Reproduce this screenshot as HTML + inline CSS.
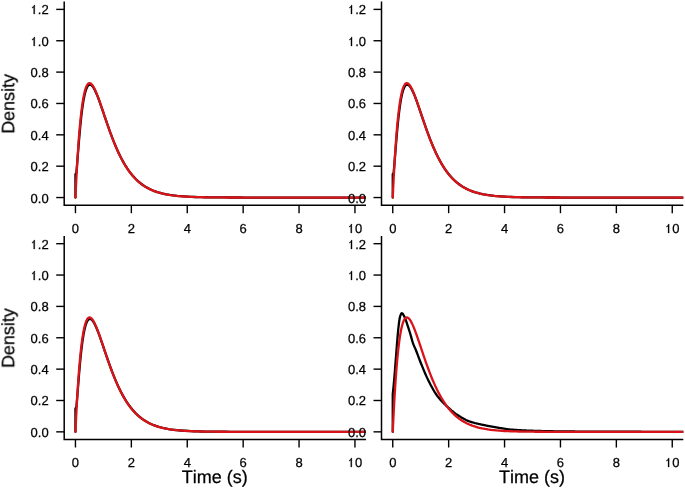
<!DOCTYPE html>
<html><head><meta charset="utf-8"><style>
html,body{margin:0;padding:0;background:#fff;}
body{width:685px;height:488px;overflow:hidden;}
svg{display:block;}
text{font-kerning:none;text-rendering:geometricPrecision;stroke:#000;stroke-width:0.25px;}
</style></head><body>
<svg width="685" height="488" viewBox="0 0 685 488">
<rect width="685" height="488" fill="#fff"/>
<defs><filter id="ga" x="0" y="0" width="1" height="1"><feColorMatrix type="identity"/></filter></defs>
<clipPath id="c0"><rect x="64.20" y="1.60" width="301.80" height="203.60"/></clipPath>
<g clip-path="url(#c0)" fill="none" stroke-linejoin="round" stroke-linecap="round" stroke-width="2.3">
<path d="M75.45,197.55 L75.45,174.03 L76.29,173.24 L76.57,170.20 L76.85,167.02 L77.13,163.73 L77.41,160.35 L77.69,156.92 L77.97,153.45 L78.25,149.97 L78.52,146.51 L78.80,143.08 L79.08,139.71 L79.36,136.41 L79.64,133.20 L79.92,130.09 L80.20,127.09 L80.48,124.19 L80.76,121.41 L81.04,118.76 L81.32,116.22 L81.60,113.80 L81.88,111.50 L82.16,109.32 L82.44,107.26 L82.72,105.31 L83.00,103.47 L83.28,101.73 L83.56,100.10 L83.84,98.57 L84.53,95.16 L85.23,92.32 L85.93,89.98 L86.63,88.12 L87.33,86.70 L88.03,85.66 L88.73,84.99 L89.42,84.64 L90.12,84.59 L90.82,84.81 L91.52,85.27 L92.22,85.95 L92.92,86.83 L93.62,87.88 L94.32,89.09 L95.02,90.44 L95.71,91.92 L96.41,93.50 L97.11,95.18 L97.81,96.93 L98.51,98.76 L99.21,100.65 L99.91,102.58 L100.61,104.55 L101.30,106.56 L102.00,108.59 L102.70,110.63 L103.40,112.69 L104.10,114.75 L104.80,116.81 L105.50,118.86 L106.20,120.91 L106.89,122.94 L107.59,124.95 L108.29,126.94 L108.99,128.91 L109.69,130.86 L110.39,132.78 L111.09,134.67 L111.78,136.52 L112.48,138.35 L113.18,140.14 L113.88,141.89 L114.58,143.61 L115.28,145.30 L115.98,146.94 L116.68,148.56 L117.38,150.13 L118.07,151.66 L118.77,153.16 L119.47,154.62 L120.17,156.04 L120.87,157.43 L121.57,158.78 L122.27,160.09 L122.97,161.37 L123.66,162.61 L124.36,163.81 L125.06,164.98 L125.76,166.12 L126.46,167.22 L127.16,168.29 L127.86,169.33 L128.56,170.33 L129.25,171.30 L129.95,172.25 L130.65,173.16 L131.35,174.04 L132.05,174.90 L132.75,175.73 L133.45,176.53 L134.15,177.30 L134.84,178.05 L135.54,178.78 L136.24,179.47 L136.94,180.15 L137.64,180.80 L138.34,181.43 L139.04,182.04 L139.74,182.63 L140.43,183.19 L141.13,183.74 L141.83,184.27 L142.53,184.78 L143.23,185.27 L143.93,185.74 L144.63,186.20 L145.32,186.64 L146.02,187.06 L146.72,187.47 L147.42,187.86 L148.12,188.24 L148.82,188.61 L149.52,188.96 L150.22,189.29 L150.92,189.62 L151.61,189.93 L152.31,190.24 L153.01,190.53 L153.71,190.80 L154.41,191.07 L155.11,191.33 L155.81,191.58 L156.50,191.82 L157.20,192.05 L157.90,192.27 L158.60,192.48 L159.30,192.69 L162.83,193.61 L166.36,194.35 L169.89,194.97 L173.42,195.46 L176.95,195.87 L180.48,196.19 L184.00,196.46 L187.53,196.67 L191.06,196.85 L194.59,196.98 L198.12,197.10 L201.65,197.19 L205.18,197.26 L208.71,197.32 L212.24,197.36 L215.77,197.40 L219.30,197.43 L222.83,197.46 L226.36,197.47 L229.89,197.49 L233.41,197.50 L236.94,197.51 L240.47,197.52 L244.00,197.53 L247.53,197.53 L251.06,197.53 L254.59,197.54 L258.12,197.54 L261.65,197.54 L265.18,197.54 L268.71,197.55 L272.24,197.55 L275.77,197.55 L279.30,197.55 L282.82,197.55 L286.35,197.55 L289.88,197.55 L293.41,197.55 L296.94,197.55 L300.47,197.55 L304.00,197.55 L307.53,197.55 L311.06,197.55 L314.59,197.55 L318.12,197.55 L321.65,197.55 L325.18,197.55 L328.71,197.55 L332.23,197.55 L335.76,197.55 L339.29,197.55 L342.82,197.55 L346.35,197.55 L349.88,197.55 L353.41,197.55 L356.94,197.55 L360.47,197.55 L364.00,197.55 L367.53,197.55" stroke="#000" stroke-width="2.3"/>
<path d="M75.45,197.55 L75.59,194.50 L75.73,191.50 L75.87,188.57 L76.01,185.69 L76.15,182.88 L76.29,180.12 L76.43,177.41 L76.57,174.76 L76.71,172.16 L76.85,169.62 L76.99,167.13 L77.13,164.69 L77.27,162.31 L77.41,159.97 L77.55,157.68 L77.69,155.45 L77.83,153.26 L77.97,151.11 L78.11,149.02 L78.25,146.97 L78.38,144.96 L78.52,143.00 L78.66,141.08 L78.80,139.21 L78.94,137.38 L79.08,135.59 L79.22,133.84 L79.36,132.13 L79.50,130.47 L79.64,128.84 L79.78,127.25 L79.92,125.70 L80.06,124.18 L80.20,122.71 L80.34,121.26 L80.48,119.86 L80.62,118.49 L80.76,117.15 L80.90,115.85 L81.04,114.58 L81.60,109.84 L82.16,105.58 L82.72,101.79 L83.28,98.44 L83.84,95.49 L84.39,92.92 L84.95,90.70 L85.51,88.82 L86.07,87.24 L86.63,85.95 L87.19,84.93 L87.75,84.15 L88.31,83.61 L88.87,83.28 L89.42,83.15 L89.98,83.20 L90.54,83.42 L91.10,83.80 L91.66,84.31 L92.22,84.97 L92.78,85.74 L93.34,86.62 L93.90,87.60 L94.46,88.67 L95.02,89.83 L95.57,91.06 L96.13,92.36 L96.69,93.72 L97.25,95.13 L97.81,96.59 L98.37,98.09 L98.93,99.63 L99.49,101.19 L100.05,102.79 L100.61,104.40 L101.16,106.04 L101.72,107.68 L102.28,109.34 L102.84,111.01 L103.40,112.67 L103.96,114.34 L104.52,116.01 L105.08,117.67 L105.64,119.33 L106.20,120.98 L106.75,122.62 L107.31,124.25 L107.87,125.87 L108.43,127.46 L108.99,129.05 L109.55,130.62 L110.11,132.16 L110.67,133.69 L111.23,135.20 L111.78,136.69 L112.34,138.16 L112.90,139.60 L113.46,141.03 L114.02,142.42 L114.58,143.80 L115.14,145.15 L115.70,146.48 L116.26,147.79 L116.82,149.07 L117.38,150.32 L117.93,151.55 L118.49,152.76 L119.05,153.94 L119.61,155.10 L120.17,156.24 L120.73,157.35 L121.29,158.43 L121.85,159.50 L122.41,160.54 L122.97,161.55 L123.52,162.54 L124.08,163.51 L124.64,164.46 L125.20,165.39 L125.76,166.29 L126.32,167.17 L126.88,168.03 L127.44,168.87 L128.00,169.69 L128.56,170.49 L129.11,171.27 L129.67,172.03 L130.23,172.77 L130.79,173.49 L131.35,174.19 L131.91,174.87 L132.47,175.54 L133.03,176.19 L133.59,176.82 L134.15,177.44 L134.70,178.03 L135.26,178.62 L135.82,179.18 L136.38,179.73 L136.94,180.27 L137.50,180.79 L138.06,181.30 L138.62,181.79 L139.18,182.27 L139.74,182.73 L140.29,183.19 L140.85,183.63 L141.41,184.05 L141.97,184.47 L142.53,184.87 L143.09,185.26 L143.65,185.64 L144.21,186.01 L144.77,186.37 L145.33,186.72 L145.88,187.06 L146.44,187.38 L147.00,187.70 L147.56,188.01 L148.12,188.31 L148.68,188.60 L149.24,188.88 L149.80,189.16 L150.36,189.42 L150.92,189.68 L151.47,189.93 L152.03,190.17 L152.59,190.41 L153.15,190.64 L153.71,190.86 L154.27,191.07 L154.83,191.28 L155.39,191.48 L155.95,191.68 L156.50,191.87 L157.06,192.05 L157.62,192.23 L158.18,192.40 L158.74,192.57 L159.30,192.73 L162.11,193.47 L164.93,194.10 L167.74,194.63 L170.56,195.09 L173.37,195.48 L176.18,195.80 L179.00,196.08 L181.81,196.31 L184.62,196.51 L187.44,196.68 L190.25,196.82 L193.07,196.93 L195.88,197.03 L198.69,197.12 L201.51,197.19 L204.32,197.25 L207.14,197.30 L209.95,197.34 L212.76,197.37 L215.58,197.40 L218.39,197.43 L221.21,197.45 L224.02,197.46 L226.83,197.48 L229.65,197.49 L232.46,197.50 L235.27,197.51 L238.09,197.52 L240.90,197.52 L243.72,197.53 L246.53,197.53 L249.34,197.53 L252.16,197.54 L254.97,197.54 L257.79,197.54 L260.60,197.54 L263.41,197.54 L266.23,197.54 L269.04,197.55 L271.86,197.55 L274.67,197.55 L277.48,197.55 L280.30,197.55 L283.11,197.55 L285.92,197.55 L288.74,197.55 L291.55,197.55 L294.37,197.55 L297.18,197.55 L299.99,197.55 L302.81,197.55 L305.62,197.55 L308.44,197.55 L311.25,197.55 L314.06,197.55 L316.88,197.55 L319.69,197.55 L322.51,197.55 L325.32,197.55 L328.13,197.55 L330.95,197.55 L333.76,197.55 L336.57,197.55 L339.39,197.55 L342.20,197.55 L345.02,197.55 L347.83,197.55 L350.64,197.55 L353.46,197.55 L356.27,197.55 L359.09,197.55 L361.90,197.55 L364.71,197.55 L367.53,197.55" stroke="#d8141a"/>
</g>
<g stroke="#000" fill="none">
<path stroke-width="1.5" d="M64.20,1.60 V205.20 H366.00"/>
<path stroke-width="1.4" d="M56.20,197.55 H64.20"/>
<path stroke-width="1.4" d="M56.20,166.19 H64.20"/>
<path stroke-width="1.4" d="M56.20,134.83 H64.20"/>
<path stroke-width="1.4" d="M56.20,103.47 H64.20"/>
<path stroke-width="1.4" d="M56.20,72.11 H64.20"/>
<path stroke-width="1.4" d="M56.20,40.75 H64.20"/>
<path stroke-width="1.4" d="M56.20,9.39 H64.20"/>
<path stroke-width="1.4" d="M75.45,205.20 V213.20"/>
<path stroke-width="1.4" d="M131.35,205.20 V213.20"/>
<path stroke-width="1.4" d="M187.25,205.20 V213.20"/>
<path stroke-width="1.4" d="M243.15,205.20 V213.20"/>
<path stroke-width="1.4" d="M299.05,205.20 V213.20"/>
<path stroke-width="1.4" d="M354.95,205.20 V213.20"/>
</g>
<g font-family="Liberation Sans, sans-serif" font-size="13.0" fill="#000" filter="url(#ga)">
<text x="48.70" y="203.00" text-anchor="end">0.0</text>
<text x="48.70" y="171.00" text-anchor="end">0.2</text>
<text x="48.70" y="140.00" text-anchor="end">0.4</text>
<text x="48.70" y="108.00" text-anchor="end">0.6</text>
<text x="48.70" y="77.00" text-anchor="end">0.8</text>
<path d="M652,0 L472,0 L472,1080 C410,1020 340,975 240,920 L240,1075 C330,1125 420,1190 480,1270 C505,1315 525,1360 540,1420 L652,1420 Z" stroke="#000" stroke-width="0.25" vector-effect="non-scaling-stroke" transform="translate(30.628,46.000) scale(0.006348,-0.006348)"/>
<text x="48.70" y="46.00" text-anchor="end">.0</text>
<path d="M652,0 L472,0 L472,1080 C410,1020 340,975 240,920 L240,1075 C330,1125 420,1190 480,1270 C505,1315 525,1360 540,1420 L652,1420 Z" stroke="#000" stroke-width="0.25" vector-effect="non-scaling-stroke" transform="translate(30.628,14.000) scale(0.006348,-0.006348)"/>
<text x="48.70" y="14.00" text-anchor="end">.2</text>
<text x="75.45" y="233" text-anchor="middle">0</text>
<text x="131.35" y="233" text-anchor="middle">2</text>
<text x="187.25" y="233" text-anchor="middle">4</text>
<text x="243.15" y="233" text-anchor="middle">6</text>
<text x="299.05" y="233" text-anchor="middle">8</text>
<path d="M652,0 L472,0 L472,1080 C410,1020 340,975 240,920 L240,1075 C330,1125 420,1190 480,1270 C505,1315 525,1360 540,1420 L652,1420 Z" stroke="#000" stroke-width="0.25" vector-effect="non-scaling-stroke" transform="translate(347.720,233.000) scale(0.006348,-0.006348)"/>
<text x="354.95" y="233">0</text>
</g>
<clipPath id="c1"><rect x="381.50" y="1.60" width="301.80" height="203.60"/></clipPath>
<g clip-path="url(#c1)" fill="none" stroke-linejoin="round" stroke-linecap="round" stroke-width="2.3">
<path d="M392.75,197.55 L392.75,174.03 L393.59,173.24 L393.87,170.20 L394.15,167.02 L394.43,163.73 L394.71,160.35 L394.99,156.92 L395.27,153.45 L395.55,149.97 L395.82,146.51 L396.10,143.08 L396.38,139.71 L396.66,136.41 L396.94,133.20 L397.22,130.09 L397.50,127.09 L397.78,124.19 L398.06,121.41 L398.34,118.76 L398.62,116.22 L398.90,113.80 L399.18,111.50 L399.46,109.32 L399.74,107.26 L400.02,105.31 L400.30,103.47 L400.58,101.73 L400.86,100.10 L401.13,98.57 L401.83,95.16 L402.53,92.32 L403.23,89.98 L403.93,88.12 L404.63,86.70 L405.33,85.66 L406.03,84.99 L406.73,84.64 L407.42,84.59 L408.12,84.81 L408.82,85.27 L409.52,85.95 L410.22,86.83 L410.92,87.88 L411.62,89.09 L412.31,90.44 L413.01,91.92 L413.71,93.50 L414.41,95.18 L415.11,96.93 L415.81,98.76 L416.51,100.65 L417.21,102.58 L417.91,104.55 L418.60,106.56 L419.30,108.59 L420.00,110.63 L420.70,112.69 L421.40,114.75 L422.10,116.81 L422.80,118.86 L423.50,120.91 L424.19,122.94 L424.89,124.95 L425.59,126.94 L426.29,128.91 L426.99,130.86 L427.69,132.78 L428.39,134.67 L429.08,136.52 L429.78,138.35 L430.48,140.14 L431.18,141.89 L431.88,143.61 L432.58,145.30 L433.28,146.94 L433.98,148.56 L434.68,150.13 L435.37,151.66 L436.07,153.16 L436.77,154.62 L437.47,156.04 L438.17,157.43 L438.87,158.78 L439.57,160.09 L440.26,161.37 L440.96,162.61 L441.66,163.81 L442.36,164.98 L443.06,166.12 L443.76,167.22 L444.46,168.29 L445.16,169.33 L445.86,170.33 L446.55,171.30 L447.25,172.25 L447.95,173.16 L448.65,174.04 L449.35,174.90 L450.05,175.73 L450.75,176.53 L451.44,177.30 L452.14,178.05 L452.84,178.78 L453.54,179.47 L454.24,180.15 L454.94,180.80 L455.64,181.43 L456.34,182.04 L457.03,182.63 L457.73,183.19 L458.43,183.74 L459.13,184.27 L459.83,184.78 L460.53,185.27 L461.23,185.74 L461.93,186.20 L462.62,186.64 L463.32,187.06 L464.02,187.47 L464.72,187.86 L465.42,188.24 L466.12,188.61 L466.82,188.96 L467.52,189.29 L468.22,189.62 L468.91,189.93 L469.61,190.24 L470.31,190.53 L471.01,190.80 L471.71,191.07 L472.41,191.33 L473.11,191.58 L473.81,191.82 L474.50,192.05 L475.20,192.27 L475.90,192.48 L476.60,192.69 L480.13,193.61 L483.66,194.35 L487.19,194.97 L490.72,195.46 L494.25,195.87 L497.78,196.19 L501.30,196.46 L504.83,196.67 L508.36,196.85 L511.89,196.98 L515.42,197.10 L518.95,197.19 L522.48,197.26 L526.01,197.32 L529.54,197.36 L533.07,197.40 L536.60,197.43 L540.13,197.46 L543.66,197.47 L547.19,197.49 L550.71,197.50 L554.24,197.51 L557.77,197.52 L561.30,197.53 L564.83,197.53 L568.36,197.53 L571.89,197.54 L575.42,197.54 L578.95,197.54 L582.48,197.54 L586.01,197.55 L589.54,197.55 L593.07,197.55 L596.60,197.55 L600.12,197.55 L603.65,197.55 L607.18,197.55 L610.71,197.55 L614.24,197.55 L617.77,197.55 L621.30,197.55 L624.83,197.55 L628.36,197.55 L631.89,197.55 L635.42,197.55 L638.95,197.55 L642.48,197.55 L646.01,197.55 L649.53,197.55 L653.06,197.55 L656.59,197.55 L660.12,197.55 L663.65,197.55 L667.18,197.55 L670.71,197.55 L674.24,197.55 L677.77,197.55 L681.30,197.55 L684.83,197.55" stroke="#000" stroke-width="2.3"/>
<path d="M392.75,197.55 L392.89,194.50 L393.03,191.50 L393.17,188.57 L393.31,185.69 L393.45,182.88 L393.59,180.12 L393.73,177.41 L393.87,174.76 L394.01,172.16 L394.15,169.62 L394.29,167.13 L394.43,164.69 L394.57,162.31 L394.71,159.97 L394.85,157.68 L394.99,155.45 L395.13,153.26 L395.27,151.11 L395.41,149.02 L395.55,146.97 L395.68,144.96 L395.82,143.00 L395.96,141.08 L396.10,139.21 L396.24,137.38 L396.38,135.59 L396.52,133.84 L396.66,132.13 L396.80,130.47 L396.94,128.84 L397.08,127.25 L397.22,125.70 L397.36,124.18 L397.50,122.71 L397.64,121.26 L397.78,119.86 L397.92,118.49 L398.06,117.15 L398.20,115.85 L398.34,114.58 L398.90,109.84 L399.46,105.58 L400.02,101.79 L400.58,98.44 L401.13,95.49 L401.69,92.92 L402.25,90.70 L402.81,88.82 L403.37,87.24 L403.93,85.95 L404.49,84.93 L405.05,84.15 L405.61,83.61 L406.17,83.28 L406.73,83.15 L407.28,83.20 L407.84,83.42 L408.40,83.80 L408.96,84.31 L409.52,84.97 L410.08,85.74 L410.64,86.62 L411.20,87.60 L411.76,88.67 L412.31,89.83 L412.87,91.06 L413.43,92.36 L413.99,93.72 L414.55,95.13 L415.11,96.59 L415.67,98.09 L416.23,99.63 L416.79,101.19 L417.35,102.79 L417.91,104.40 L418.46,106.04 L419.02,107.68 L419.58,109.34 L420.14,111.01 L420.70,112.67 L421.26,114.34 L421.82,116.01 L422.38,117.67 L422.94,119.33 L423.50,120.98 L424.05,122.62 L424.61,124.25 L425.17,125.87 L425.73,127.46 L426.29,129.05 L426.85,130.62 L427.41,132.16 L427.97,133.69 L428.53,135.20 L429.08,136.69 L429.64,138.16 L430.20,139.60 L430.76,141.03 L431.32,142.42 L431.88,143.80 L432.44,145.15 L433.00,146.48 L433.56,147.79 L434.12,149.07 L434.68,150.32 L435.23,151.55 L435.79,152.76 L436.35,153.94 L436.91,155.10 L437.47,156.24 L438.03,157.35 L438.59,158.43 L439.15,159.50 L439.71,160.54 L440.26,161.55 L440.82,162.54 L441.38,163.51 L441.94,164.46 L442.50,165.39 L443.06,166.29 L443.62,167.17 L444.18,168.03 L444.74,168.87 L445.30,169.69 L445.86,170.49 L446.41,171.27 L446.97,172.03 L447.53,172.77 L448.09,173.49 L448.65,174.19 L449.21,174.87 L449.77,175.54 L450.33,176.19 L450.89,176.82 L451.44,177.44 L452.00,178.03 L452.56,178.62 L453.12,179.18 L453.68,179.73 L454.24,180.27 L454.80,180.79 L455.36,181.30 L455.92,181.79 L456.48,182.27 L457.04,182.73 L457.59,183.19 L458.15,183.63 L458.71,184.05 L459.27,184.47 L459.83,184.87 L460.39,185.26 L460.95,185.64 L461.51,186.01 L462.07,186.37 L462.62,186.72 L463.18,187.06 L463.74,187.38 L464.30,187.70 L464.86,188.01 L465.42,188.31 L465.98,188.60 L466.54,188.88 L467.10,189.16 L467.66,189.42 L468.22,189.68 L468.77,189.93 L469.33,190.17 L469.89,190.41 L470.45,190.64 L471.01,190.86 L471.57,191.07 L472.13,191.28 L472.69,191.48 L473.25,191.68 L473.81,191.87 L474.36,192.05 L474.92,192.23 L475.48,192.40 L476.04,192.57 L476.60,192.73 L479.41,193.47 L482.23,194.10 L485.04,194.63 L487.86,195.09 L490.67,195.48 L493.48,195.80 L496.30,196.08 L499.11,196.31 L501.92,196.51 L504.74,196.68 L507.55,196.82 L510.37,196.93 L513.18,197.03 L515.99,197.12 L518.81,197.19 L521.62,197.25 L524.44,197.30 L527.25,197.34 L530.06,197.37 L532.88,197.40 L535.69,197.43 L538.51,197.45 L541.32,197.46 L544.13,197.48 L546.95,197.49 L549.76,197.50 L552.57,197.51 L555.39,197.52 L558.20,197.52 L561.02,197.53 L563.83,197.53 L566.64,197.53 L569.46,197.54 L572.27,197.54 L575.09,197.54 L577.90,197.54 L580.71,197.54 L583.53,197.54 L586.34,197.55 L589.16,197.55 L591.97,197.55 L594.78,197.55 L597.60,197.55 L600.41,197.55 L603.22,197.55 L606.04,197.55 L608.85,197.55 L611.67,197.55 L614.48,197.55 L617.29,197.55 L620.11,197.55 L622.92,197.55 L625.74,197.55 L628.55,197.55 L631.36,197.55 L634.18,197.55 L636.99,197.55 L639.81,197.55 L642.62,197.55 L645.43,197.55 L648.25,197.55 L651.06,197.55 L653.87,197.55 L656.69,197.55 L659.50,197.55 L662.32,197.55 L665.13,197.55 L667.94,197.55 L670.76,197.55 L673.57,197.55 L676.39,197.55 L679.20,197.55 L682.01,197.55 L684.83,197.55" stroke="#d8141a"/>
</g>
<g stroke="#000" fill="none">
<path stroke-width="1.5" d="M381.50,1.60 V205.20 H683.30"/>
<path stroke-width="1.4" d="M373.50,197.55 H381.50"/>
<path stroke-width="1.4" d="M373.50,166.19 H381.50"/>
<path stroke-width="1.4" d="M373.50,134.83 H381.50"/>
<path stroke-width="1.4" d="M373.50,103.47 H381.50"/>
<path stroke-width="1.4" d="M373.50,72.11 H381.50"/>
<path stroke-width="1.4" d="M373.50,40.75 H381.50"/>
<path stroke-width="1.4" d="M373.50,9.39 H381.50"/>
<path stroke-width="1.4" d="M392.75,205.20 V213.20"/>
<path stroke-width="1.4" d="M448.65,205.20 V213.20"/>
<path stroke-width="1.4" d="M504.55,205.20 V213.20"/>
<path stroke-width="1.4" d="M560.45,205.20 V213.20"/>
<path stroke-width="1.4" d="M616.35,205.20 V213.20"/>
<path stroke-width="1.4" d="M672.25,205.20 V213.20"/>
</g>
<g font-family="Liberation Sans, sans-serif" font-size="13.0" fill="#000" filter="url(#ga)">
<text x="366.00" y="203.00" text-anchor="end">0.0</text>
<text x="366.00" y="171.00" text-anchor="end">0.2</text>
<text x="366.00" y="140.00" text-anchor="end">0.4</text>
<text x="366.00" y="108.00" text-anchor="end">0.6</text>
<text x="366.00" y="77.00" text-anchor="end">0.8</text>
<path d="M652,0 L472,0 L472,1080 C410,1020 340,975 240,920 L240,1075 C330,1125 420,1190 480,1270 C505,1315 525,1360 540,1420 L652,1420 Z" stroke="#000" stroke-width="0.25" vector-effect="non-scaling-stroke" transform="translate(347.928,46.000) scale(0.006348,-0.006348)"/>
<text x="366.00" y="46.00" text-anchor="end">.0</text>
<path d="M652,0 L472,0 L472,1080 C410,1020 340,975 240,920 L240,1075 C330,1125 420,1190 480,1270 C505,1315 525,1360 540,1420 L652,1420 Z" stroke="#000" stroke-width="0.25" vector-effect="non-scaling-stroke" transform="translate(347.928,14.000) scale(0.006348,-0.006348)"/>
<text x="366.00" y="14.00" text-anchor="end">.2</text>
<text x="392.75" y="233" text-anchor="middle">0</text>
<text x="448.65" y="233" text-anchor="middle">2</text>
<text x="504.55" y="233" text-anchor="middle">4</text>
<text x="560.45" y="233" text-anchor="middle">6</text>
<text x="616.35" y="233" text-anchor="middle">8</text>
<path d="M652,0 L472,0 L472,1080 C410,1020 340,975 240,920 L240,1075 C330,1125 420,1190 480,1270 C505,1315 525,1360 540,1420 L652,1420 Z" stroke="#000" stroke-width="0.25" vector-effect="non-scaling-stroke" transform="translate(665.020,233.000) scale(0.006348,-0.006348)"/>
<text x="672.25" y="233">0</text>
</g>
<clipPath id="c2"><rect x="64.20" y="235.90" width="301.80" height="203.60"/></clipPath>
<g clip-path="url(#c2)" fill="none" stroke-linejoin="round" stroke-linecap="round" stroke-width="2.3">
<path d="M75.45,431.85 L75.45,408.33 L76.29,407.54 L76.57,404.50 L76.85,401.32 L77.13,398.03 L77.41,394.65 L77.69,391.22 L77.97,387.75 L78.25,384.27 L78.52,380.81 L78.80,377.38 L79.08,374.01 L79.36,370.71 L79.64,367.50 L79.92,364.39 L80.20,361.39 L80.48,358.49 L80.76,355.71 L81.04,353.06 L81.32,350.52 L81.60,348.10 L81.88,345.80 L82.16,343.62 L82.44,341.56 L82.72,339.61 L83.00,337.77 L83.28,336.03 L83.56,334.40 L83.84,332.87 L84.53,329.46 L85.23,326.62 L85.93,324.28 L86.63,322.42 L87.33,321.00 L88.03,319.96 L88.73,319.29 L89.42,318.94 L90.12,318.89 L90.82,319.11 L91.52,319.57 L92.22,320.25 L92.92,321.13 L93.62,322.18 L94.32,323.39 L95.02,324.74 L95.71,326.22 L96.41,327.80 L97.11,329.48 L97.81,331.23 L98.51,333.06 L99.21,334.95 L99.91,336.88 L100.61,338.85 L101.30,340.86 L102.00,342.89 L102.70,344.93 L103.40,346.99 L104.10,349.05 L104.80,351.11 L105.50,353.16 L106.20,355.21 L106.89,357.24 L107.59,359.25 L108.29,361.24 L108.99,363.21 L109.69,365.16 L110.39,367.08 L111.09,368.97 L111.78,370.82 L112.48,372.65 L113.18,374.44 L113.88,376.19 L114.58,377.91 L115.28,379.60 L115.98,381.24 L116.68,382.86 L117.38,384.43 L118.07,385.96 L118.77,387.46 L119.47,388.92 L120.17,390.34 L120.87,391.73 L121.57,393.08 L122.27,394.39 L122.97,395.67 L123.66,396.91 L124.36,398.11 L125.06,399.28 L125.76,400.42 L126.46,401.52 L127.16,402.59 L127.86,403.63 L128.56,404.63 L129.25,405.60 L129.95,406.55 L130.65,407.46 L131.35,408.34 L132.05,409.20 L132.75,410.03 L133.45,410.83 L134.15,411.60 L134.84,412.35 L135.54,413.08 L136.24,413.77 L136.94,414.45 L137.64,415.10 L138.34,415.73 L139.04,416.34 L139.74,416.93 L140.43,417.49 L141.13,418.04 L141.83,418.57 L142.53,419.08 L143.23,419.57 L143.93,420.04 L144.63,420.50 L145.32,420.94 L146.02,421.36 L146.72,421.77 L147.42,422.16 L148.12,422.54 L148.82,422.91 L149.52,423.26 L150.22,423.59 L150.92,423.92 L151.61,424.23 L152.31,424.54 L153.01,424.83 L153.71,425.10 L154.41,425.37 L155.11,425.63 L155.81,425.88 L156.50,426.12 L157.20,426.35 L157.90,426.57 L158.60,426.78 L159.30,426.99 L162.83,427.91 L166.36,428.65 L169.89,429.27 L173.42,429.76 L176.95,430.17 L180.48,430.49 L184.00,430.76 L187.53,430.97 L191.06,431.15 L194.59,431.28 L198.12,431.40 L201.65,431.49 L205.18,431.56 L208.71,431.62 L212.24,431.66 L215.77,431.70 L219.30,431.73 L222.83,431.76 L226.36,431.77 L229.89,431.79 L233.41,431.80 L236.94,431.81 L240.47,431.82 L244.00,431.83 L247.53,431.83 L251.06,431.83 L254.59,431.84 L258.12,431.84 L261.65,431.84 L265.18,431.84 L268.71,431.85 L272.24,431.85 L275.77,431.85 L279.30,431.85 L282.82,431.85 L286.35,431.85 L289.88,431.85 L293.41,431.85 L296.94,431.85 L300.47,431.85 L304.00,431.85 L307.53,431.85 L311.06,431.85 L314.59,431.85 L318.12,431.85 L321.65,431.85 L325.18,431.85 L328.71,431.85 L332.23,431.85 L335.76,431.85 L339.29,431.85 L342.82,431.85 L346.35,431.85 L349.88,431.85 L353.41,431.85 L356.94,431.85 L360.47,431.85 L364.00,431.85 L367.53,431.85" stroke="#000" stroke-width="2.3"/>
<path d="M75.45,431.85 L75.59,428.80 L75.73,425.80 L75.87,422.87 L76.01,419.99 L76.15,417.18 L76.29,414.42 L76.43,411.71 L76.57,409.06 L76.71,406.46 L76.85,403.92 L76.99,401.43 L77.13,398.99 L77.27,396.61 L77.41,394.27 L77.55,391.98 L77.69,389.75 L77.83,387.56 L77.97,385.41 L78.11,383.32 L78.25,381.27 L78.38,379.26 L78.52,377.30 L78.66,375.38 L78.80,373.51 L78.94,371.68 L79.08,369.89 L79.22,368.14 L79.36,366.43 L79.50,364.77 L79.64,363.14 L79.78,361.55 L79.92,360.00 L80.06,358.48 L80.20,357.01 L80.34,355.56 L80.48,354.16 L80.62,352.79 L80.76,351.45 L80.90,350.15 L81.04,348.88 L81.60,344.14 L82.16,339.88 L82.72,336.09 L83.28,332.74 L83.84,329.79 L84.39,327.22 L84.95,325.00 L85.51,323.12 L86.07,321.54 L86.63,320.25 L87.19,319.23 L87.75,318.45 L88.31,317.91 L88.87,317.58 L89.42,317.45 L89.98,317.50 L90.54,317.72 L91.10,318.10 L91.66,318.61 L92.22,319.27 L92.78,320.04 L93.34,320.92 L93.90,321.90 L94.46,322.97 L95.02,324.13 L95.57,325.36 L96.13,326.66 L96.69,328.02 L97.25,329.43 L97.81,330.89 L98.37,332.39 L98.93,333.93 L99.49,335.49 L100.05,337.09 L100.61,338.70 L101.16,340.34 L101.72,341.98 L102.28,343.64 L102.84,345.31 L103.40,346.97 L103.96,348.64 L104.52,350.31 L105.08,351.97 L105.64,353.63 L106.20,355.28 L106.75,356.92 L107.31,358.55 L107.87,360.17 L108.43,361.76 L108.99,363.35 L109.55,364.92 L110.11,366.46 L110.67,367.99 L111.23,369.50 L111.78,370.99 L112.34,372.46 L112.90,373.90 L113.46,375.33 L114.02,376.72 L114.58,378.10 L115.14,379.45 L115.70,380.78 L116.26,382.09 L116.82,383.37 L117.38,384.62 L117.93,385.85 L118.49,387.06 L119.05,388.24 L119.61,389.40 L120.17,390.54 L120.73,391.65 L121.29,392.73 L121.85,393.80 L122.41,394.84 L122.97,395.85 L123.52,396.84 L124.08,397.81 L124.64,398.76 L125.20,399.69 L125.76,400.59 L126.32,401.47 L126.88,402.33 L127.44,403.17 L128.00,403.99 L128.56,404.79 L129.11,405.57 L129.67,406.33 L130.23,407.07 L130.79,407.79 L131.35,408.49 L131.91,409.17 L132.47,409.84 L133.03,410.49 L133.59,411.12 L134.15,411.74 L134.70,412.33 L135.26,412.92 L135.82,413.48 L136.38,414.03 L136.94,414.57 L137.50,415.09 L138.06,415.60 L138.62,416.09 L139.18,416.57 L139.74,417.03 L140.29,417.49 L140.85,417.93 L141.41,418.35 L141.97,418.77 L142.53,419.17 L143.09,419.56 L143.65,419.94 L144.21,420.31 L144.77,420.67 L145.33,421.02 L145.88,421.36 L146.44,421.68 L147.00,422.00 L147.56,422.31 L148.12,422.61 L148.68,422.90 L149.24,423.18 L149.80,423.46 L150.36,423.72 L150.92,423.98 L151.47,424.23 L152.03,424.47 L152.59,424.71 L153.15,424.94 L153.71,425.16 L154.27,425.37 L154.83,425.58 L155.39,425.78 L155.95,425.98 L156.50,426.17 L157.06,426.35 L157.62,426.53 L158.18,426.70 L158.74,426.87 L159.30,427.03 L162.11,427.77 L164.93,428.40 L167.74,428.93 L170.56,429.39 L173.37,429.78 L176.18,430.10 L179.00,430.38 L181.81,430.61 L184.62,430.81 L187.44,430.98 L190.25,431.12 L193.07,431.23 L195.88,431.33 L198.69,431.42 L201.51,431.49 L204.32,431.55 L207.14,431.60 L209.95,431.64 L212.76,431.67 L215.58,431.70 L218.39,431.73 L221.21,431.75 L224.02,431.76 L226.83,431.78 L229.65,431.79 L232.46,431.80 L235.27,431.81 L238.09,431.82 L240.90,431.82 L243.72,431.83 L246.53,431.83 L249.34,431.83 L252.16,431.84 L254.97,431.84 L257.79,431.84 L260.60,431.84 L263.41,431.84 L266.23,431.84 L269.04,431.85 L271.86,431.85 L274.67,431.85 L277.48,431.85 L280.30,431.85 L283.11,431.85 L285.92,431.85 L288.74,431.85 L291.55,431.85 L294.37,431.85 L297.18,431.85 L299.99,431.85 L302.81,431.85 L305.62,431.85 L308.44,431.85 L311.25,431.85 L314.06,431.85 L316.88,431.85 L319.69,431.85 L322.51,431.85 L325.32,431.85 L328.13,431.85 L330.95,431.85 L333.76,431.85 L336.57,431.85 L339.39,431.85 L342.20,431.85 L345.02,431.85 L347.83,431.85 L350.64,431.85 L353.46,431.85 L356.27,431.85 L359.09,431.85 L361.90,431.85 L364.71,431.85 L367.53,431.85" stroke="#d8141a"/>
</g>
<g stroke="#000" fill="none">
<path stroke-width="1.5" d="M64.20,235.90 V439.50 H366.00"/>
<path stroke-width="1.4" d="M56.20,431.85 H64.20"/>
<path stroke-width="1.4" d="M56.20,400.49 H64.20"/>
<path stroke-width="1.4" d="M56.20,369.13 H64.20"/>
<path stroke-width="1.4" d="M56.20,337.77 H64.20"/>
<path stroke-width="1.4" d="M56.20,306.41 H64.20"/>
<path stroke-width="1.4" d="M56.20,275.05 H64.20"/>
<path stroke-width="1.4" d="M56.20,243.69 H64.20"/>
<path stroke-width="1.4" d="M75.45,439.50 V447.50"/>
<path stroke-width="1.4" d="M131.35,439.50 V447.50"/>
<path stroke-width="1.4" d="M187.25,439.50 V447.50"/>
<path stroke-width="1.4" d="M243.15,439.50 V447.50"/>
<path stroke-width="1.4" d="M299.05,439.50 V447.50"/>
<path stroke-width="1.4" d="M354.95,439.50 V447.50"/>
</g>
<g font-family="Liberation Sans, sans-serif" font-size="13.0" fill="#000" filter="url(#ga)">
<text x="48.70" y="437.00" text-anchor="end">0.0</text>
<text x="48.70" y="405.00" text-anchor="end">0.2</text>
<text x="48.70" y="374.00" text-anchor="end">0.4</text>
<text x="48.70" y="343.00" text-anchor="end">0.6</text>
<text x="48.70" y="311.00" text-anchor="end">0.8</text>
<path d="M652,0 L472,0 L472,1080 C410,1020 340,975 240,920 L240,1075 C330,1125 420,1190 480,1270 C505,1315 525,1360 540,1420 L652,1420 Z" stroke="#000" stroke-width="0.25" vector-effect="non-scaling-stroke" transform="translate(30.628,280.000) scale(0.006348,-0.006348)"/>
<text x="48.70" y="280.00" text-anchor="end">.0</text>
<path d="M652,0 L472,0 L472,1080 C410,1020 340,975 240,920 L240,1075 C330,1125 420,1190 480,1270 C505,1315 525,1360 540,1420 L652,1420 Z" stroke="#000" stroke-width="0.25" vector-effect="non-scaling-stroke" transform="translate(30.628,249.000) scale(0.006348,-0.006348)"/>
<text x="48.70" y="249.00" text-anchor="end">.2</text>
<text x="75.45" y="467" text-anchor="middle">0</text>
<text x="131.35" y="467" text-anchor="middle">2</text>
<text x="187.25" y="467" text-anchor="middle">4</text>
<text x="243.15" y="467" text-anchor="middle">6</text>
<text x="299.05" y="467" text-anchor="middle">8</text>
<path d="M652,0 L472,0 L472,1080 C410,1020 340,975 240,920 L240,1075 C330,1125 420,1190 480,1270 C505,1315 525,1360 540,1420 L652,1420 Z" stroke="#000" stroke-width="0.25" vector-effect="non-scaling-stroke" transform="translate(347.720,467.000) scale(0.006348,-0.006348)"/>
<text x="354.95" y="467">0</text>
</g>
<clipPath id="c3"><rect x="381.50" y="235.90" width="301.80" height="203.60"/></clipPath>
<g clip-path="url(#c3)" fill="none" stroke-linejoin="round" stroke-linecap="round" stroke-width="2.3">
<path d="M392.75,431.85 L392.75,394.22 L393.45,387.60 L394.14,380.17 L394.84,371.89 L395.54,362.67 L396.24,353.59 L396.93,344.50 L397.63,336.18 L398.33,328.64 L399.02,322.69 L399.72,317.96 L400.42,315.52 L401.11,313.88 L401.81,313.16 L402.51,313.51 L403.21,314.48 L403.90,315.76 L404.60,317.09 L405.30,318.73 L405.99,320.66 L406.69,322.74 L407.39,324.82 L408.09,326.89 L408.78,329.03 L409.48,331.25 L410.18,333.51 L410.87,335.86 L411.57,338.41 L412.27,340.91 L412.97,343.12 L413.66,344.95 L414.36,346.58 L415.06,348.13 L415.75,349.72 L416.45,351.47 L417.15,353.31 L417.84,355.20 L418.54,357.10 L419.24,358.95 L419.94,360.71 L420.63,362.46 L421.33,364.20 L422.03,365.93 L422.72,367.64 L423.42,369.34 L424.12,371.01 L424.82,372.66 L425.51,374.27 L426.21,375.85 L426.91,377.38 L427.60,378.87 L428.30,380.31 L429.00,381.71 L429.70,383.07 L430.39,384.42 L431.09,385.75 L431.79,387.04 L432.48,388.31 L433.18,389.54 L433.88,390.72 L434.57,391.87 L435.27,392.97 L435.97,394.02 L436.67,395.02 L437.36,395.96 L438.06,396.87 L438.76,397.75 L439.45,398.59 L440.15,399.41 L440.85,400.21 L441.55,400.98 L442.24,401.73 L442.94,402.46 L443.64,403.17 L444.33,403.86 L445.03,404.55 L445.73,405.22 L446.43,405.89 L447.12,406.55 L447.82,407.19 L448.52,407.84 L449.21,408.47 L449.91,409.09 L450.61,409.70 L451.30,410.30 L452.00,410.88 L452.70,411.46 L453.40,412.02 L454.09,412.56 L454.79,413.09 L455.49,413.60 L456.18,414.10 L456.88,414.57 L457.58,415.03 L458.28,415.48 L458.97,415.93 L459.67,416.37 L460.37,416.81 L461.06,417.24 L461.76,417.65 L462.46,418.06 L463.16,418.46 L463.85,418.85 L464.55,419.22 L465.25,419.58 L465.94,419.93 L466.64,420.26 L467.34,420.58 L468.03,420.87 L468.73,421.15 L469.43,421.41 L470.13,421.65 L470.82,421.88 L471.52,422.10 L472.22,422.31 L472.91,422.51 L473.61,422.71 L474.31,422.89 L475.01,423.08 L475.70,423.25 L476.40,423.42 L477.10,423.59 L477.79,423.75 L478.49,423.91 L479.19,424.06 L479.89,424.21 L480.58,424.36 L481.28,424.51 L481.98,424.66 L482.67,424.80 L483.37,424.95 L484.07,425.10 L484.76,425.24 L485.46,425.39 L486.16,425.53 L486.86,425.67 L487.55,425.81 L488.25,425.94 L488.95,426.08 L489.64,426.21 L490.34,426.34 L491.04,426.47 L491.74,426.60 L492.43,426.72 L493.13,426.85 L493.83,426.97 L494.52,427.09 L495.22,427.21 L495.92,427.33 L496.62,427.45 L497.31,427.57 L498.01,427.68 L498.71,427.79 L499.40,427.91 L500.10,428.02 L500.80,428.13 L501.49,428.24 L502.19,428.36 L502.89,428.47 L503.59,428.59 L504.28,428.70 L504.98,428.81 L505.68,428.92 L506.37,429.02 L507.07,429.12 L507.77,429.22 L508.47,429.30 L509.16,429.38 L509.86,429.45 L510.56,429.52 L511.25,429.58 L511.95,429.63 L512.65,429.69 L513.35,429.74 L514.04,429.80 L514.74,429.85 L515.44,429.90 L516.13,429.95 L516.83,429.99 L517.53,430.04 L518.22,430.08 L518.92,430.13 L519.62,430.17 L520.32,430.21 L521.01,430.25 L521.71,430.29 L522.41,430.33 L523.10,430.36 L523.80,430.40 L524.50,430.43 L525.20,430.47 L525.89,430.50 L526.59,430.53 L527.29,430.56 L527.98,430.59 L528.68,430.61 L529.38,430.64 L530.08,430.67 L530.77,430.69 L531.47,430.72 L532.17,430.74 L532.86,430.76 L533.56,430.79 L534.26,430.81 L534.95,430.83 L535.65,430.85 L536.35,430.87 L537.05,430.89 L537.74,430.91 L538.44,430.93 L539.14,430.95 L539.83,430.97 L540.53,430.99 L541.23,431.01 L541.93,431.03 L542.62,431.05 L543.32,431.06 L544.02,431.08 L544.71,431.10 L545.41,431.11 L546.11,431.13 L546.81,431.14 L547.50,431.16 L548.20,431.18 L548.90,431.19 L549.59,431.20 L550.29,431.22 L550.99,431.23 L551.68,431.24 L552.38,431.26 L553.08,431.27 L553.78,431.28 L554.47,431.29 L555.17,431.30 L555.87,431.32 L556.56,431.33 L557.26,431.34 L557.96,431.35 L558.66,431.36 L559.35,431.37 L560.05,431.37 L560.75,431.38 L561.44,431.39 L562.14,431.40 L562.84,431.41 L563.54,431.42 L564.23,431.42 L564.93,431.43 L565.63,431.44 L566.32,431.45 L567.02,431.45 L567.72,431.46 L568.41,431.47 L569.11,431.47 L569.81,431.48 L570.51,431.49 L571.20,431.49 L571.90,431.50 L572.60,431.51 L573.29,431.51 L573.99,431.52 L574.69,431.52 L575.39,431.53 L576.08,431.53 L576.78,431.54 L577.48,431.55 L578.17,431.55 L578.87,431.56 L579.57,431.56 L580.27,431.57 L580.96,431.57 L581.66,431.57 L582.36,431.58 L583.05,431.58 L583.75,431.59 L584.45,431.59 L585.14,431.60 L585.84,431.60 L586.54,431.60 L587.24,431.61 L587.93,431.61 L588.63,431.62 L589.33,431.62 L590.02,431.62 L590.72,431.63 L591.42,431.63 L592.12,431.63 L592.81,431.64 L593.51,431.64 L594.21,431.64 L594.90,431.65 L595.60,431.65 L596.30,431.65 L597.00,431.66 L597.69,431.66 L598.39,431.66 L599.09,431.67 L599.78,431.67 L600.48,431.67 L601.18,431.68 L601.87,431.68 L602.57,431.68 L603.27,431.68 L603.97,431.69 L604.66,431.69 L605.36,431.69 L606.06,431.69 L606.75,431.70 L607.45,431.70 L608.15,431.70 L608.85,431.70 L609.54,431.71 L610.24,431.71 L610.94,431.71 L611.63,431.71 L612.33,431.71 L613.03,431.72 L613.73,431.72 L614.42,431.72 L615.12,431.72 L615.82,431.72 L616.51,431.72 L617.21,431.73 L617.91,431.73 L618.60,431.73 L619.30,431.73 L620.00,431.73 L620.70,431.73 L621.39,431.74 L622.09,431.74 L622.79,431.74 L623.48,431.74 L624.18,431.74 L624.88,431.74 L625.58,431.74 L626.27,431.75 L626.97,431.75 L627.67,431.75 L628.36,431.75 L629.06,431.75 L629.76,431.75 L630.46,431.75 L631.15,431.76 L631.85,431.76 L632.55,431.76 L633.24,431.76 L633.94,431.76 L634.64,431.76 L635.33,431.76 L636.03,431.77 L636.73,431.77 L637.43,431.77 L638.12,431.77 L638.82,431.77 L639.52,431.77 L640.21,431.77 L640.91,431.77 L641.61,431.78 L642.31,431.78 L643.00,431.78 L643.70,431.78 L644.40,431.78 L645.09,431.78 L645.79,431.78 L646.49,431.78 L647.19,431.78 L647.88,431.79 L648.58,431.79 L649.28,431.79 L649.97,431.79 L650.67,431.79 L651.37,431.79 L652.06,431.79 L652.76,431.79 L653.46,431.79 L654.16,431.80 L654.85,431.80 L655.55,431.80 L656.25,431.80 L656.94,431.80 L657.64,431.80 L658.34,431.80 L659.04,431.80 L659.73,431.80 L660.43,431.80 L661.13,431.80 L661.82,431.81 L662.52,431.81 L663.22,431.81 L663.92,431.81 L664.61,431.81 L665.31,431.81 L666.01,431.81 L666.70,431.81 L667.40,431.81 L668.10,431.81 L668.79,431.81 L669.49,431.81 L670.19,431.81 L670.89,431.81 L671.58,431.81 L672.28,431.81 L672.98,431.81 L673.67,431.82 L674.37,431.82 L675.07,431.82 L675.77,431.82 L676.46,431.82 L677.16,431.82 L677.86,431.82 L678.55,431.82 L679.25,431.82 L679.95,431.82 L680.65,431.82 L681.34,431.82 L682.04,431.82 L682.74,431.82 L683.43,431.82 L684.13,431.82 L684.83,431.82" stroke="#000" stroke-width="2.3"/>
<path d="M392.75,431.85 L392.89,428.80 L393.03,425.80 L393.17,422.87 L393.31,419.99 L393.45,417.18 L393.59,414.42 L393.73,411.71 L393.87,409.06 L394.01,406.46 L394.15,403.92 L394.29,401.43 L394.43,398.99 L394.57,396.61 L394.71,394.27 L394.85,391.98 L394.99,389.75 L395.13,387.56 L395.27,385.41 L395.41,383.32 L395.55,381.27 L395.68,379.26 L395.82,377.30 L395.96,375.38 L396.10,373.51 L396.24,371.68 L396.38,369.89 L396.52,368.14 L396.66,366.43 L396.80,364.77 L396.94,363.14 L397.08,361.55 L397.22,360.00 L397.36,358.48 L397.50,357.01 L397.64,355.56 L397.78,354.16 L397.92,352.79 L398.06,351.45 L398.20,350.15 L398.34,348.88 L398.90,344.14 L399.46,339.88 L400.02,336.09 L400.58,332.74 L401.13,329.79 L401.69,327.22 L402.25,325.00 L402.81,323.12 L403.37,321.54 L403.93,320.25 L404.49,319.23 L405.05,318.45 L405.61,317.91 L406.17,317.58 L406.73,317.45 L407.28,317.50 L407.84,317.72 L408.40,318.10 L408.96,318.61 L409.52,319.27 L410.08,320.04 L410.64,320.92 L411.20,321.90 L411.76,322.97 L412.31,324.13 L412.87,325.36 L413.43,326.66 L413.99,328.02 L414.55,329.43 L415.11,330.89 L415.67,332.39 L416.23,333.93 L416.79,335.49 L417.35,337.09 L417.91,338.70 L418.46,340.34 L419.02,341.98 L419.58,343.64 L420.14,345.31 L420.70,346.97 L421.26,348.64 L421.82,350.31 L422.38,351.97 L422.94,353.63 L423.50,355.28 L424.05,356.92 L424.61,358.55 L425.17,360.17 L425.73,361.76 L426.29,363.35 L426.85,364.92 L427.41,366.46 L427.97,367.99 L428.53,369.50 L429.08,370.99 L429.64,372.46 L430.20,373.90 L430.76,375.33 L431.32,376.72 L431.88,378.10 L432.44,379.45 L433.00,380.78 L433.56,382.09 L434.12,383.37 L434.68,384.62 L435.23,385.85 L435.79,387.06 L436.35,388.24 L436.91,389.40 L437.47,390.54 L438.03,391.65 L438.59,392.73 L439.15,393.80 L439.71,394.84 L440.26,395.85 L440.82,396.84 L441.38,397.81 L441.94,398.76 L442.50,399.69 L443.06,400.59 L443.62,401.47 L444.18,402.33 L444.74,403.17 L445.30,403.99 L445.86,404.79 L446.41,405.57 L446.97,406.33 L447.53,407.07 L448.09,407.79 L448.65,408.49 L449.21,409.17 L449.77,409.84 L450.33,410.49 L450.89,411.12 L451.44,411.74 L452.00,412.33 L452.56,412.92 L453.12,413.48 L453.68,414.03 L454.24,414.57 L454.80,415.09 L455.36,415.60 L455.92,416.09 L456.48,416.57 L457.04,417.03 L457.59,417.49 L458.15,417.93 L458.71,418.35 L459.27,418.77 L459.83,419.17 L460.39,419.56 L460.95,419.94 L461.51,420.31 L462.07,420.67 L462.62,421.02 L463.18,421.36 L463.74,421.68 L464.30,422.00 L464.86,422.31 L465.42,422.61 L465.98,422.90 L466.54,423.18 L467.10,423.46 L467.66,423.72 L468.22,423.98 L468.77,424.23 L469.33,424.47 L469.89,424.71 L470.45,424.94 L471.01,425.16 L471.57,425.37 L472.13,425.58 L472.69,425.78 L473.25,425.98 L473.81,426.17 L474.36,426.35 L474.92,426.53 L475.48,426.70 L476.04,426.87 L476.60,427.03 L479.41,427.77 L482.23,428.40 L485.04,428.93 L487.86,429.39 L490.67,429.78 L493.48,430.10 L496.30,430.38 L499.11,430.61 L501.92,430.81 L504.74,430.98 L507.55,431.12 L510.37,431.23 L513.18,431.33 L515.99,431.42 L518.81,431.49 L521.62,431.55 L524.44,431.60 L527.25,431.64 L530.06,431.67 L532.88,431.70 L535.69,431.73 L538.51,431.75 L541.32,431.76 L544.13,431.78 L546.95,431.79 L549.76,431.80 L552.57,431.81 L555.39,431.82 L558.20,431.82 L561.02,431.83 L563.83,431.83 L566.64,431.83 L569.46,431.84 L572.27,431.84 L575.09,431.84 L577.90,431.84 L580.71,431.84 L583.53,431.84 L586.34,431.85 L589.16,431.85 L591.97,431.85 L594.78,431.85 L597.60,431.85 L600.41,431.85 L603.22,431.85 L606.04,431.85 L608.85,431.85 L611.67,431.85 L614.48,431.85 L617.29,431.85 L620.11,431.85 L622.92,431.85 L625.74,431.85 L628.55,431.85 L631.36,431.85 L634.18,431.85 L636.99,431.85 L639.81,431.85 L642.62,431.85 L645.43,431.85 L648.25,431.85 L651.06,431.85 L653.87,431.85 L656.69,431.85 L659.50,431.85 L662.32,431.85 L665.13,431.85 L667.94,431.85 L670.76,431.85 L673.57,431.85 L676.39,431.85 L679.20,431.85 L682.01,431.85 L684.83,431.85" stroke="#d8141a"/>
</g>
<g stroke="#000" fill="none">
<path stroke-width="1.5" d="M381.50,235.90 V439.50 H683.30"/>
<path stroke-width="1.4" d="M373.50,431.85 H381.50"/>
<path stroke-width="1.4" d="M373.50,400.49 H381.50"/>
<path stroke-width="1.4" d="M373.50,369.13 H381.50"/>
<path stroke-width="1.4" d="M373.50,337.77 H381.50"/>
<path stroke-width="1.4" d="M373.50,306.41 H381.50"/>
<path stroke-width="1.4" d="M373.50,275.05 H381.50"/>
<path stroke-width="1.4" d="M373.50,243.69 H381.50"/>
<path stroke-width="1.4" d="M392.75,439.50 V447.50"/>
<path stroke-width="1.4" d="M448.65,439.50 V447.50"/>
<path stroke-width="1.4" d="M504.55,439.50 V447.50"/>
<path stroke-width="1.4" d="M560.45,439.50 V447.50"/>
<path stroke-width="1.4" d="M616.35,439.50 V447.50"/>
<path stroke-width="1.4" d="M672.25,439.50 V447.50"/>
</g>
<g font-family="Liberation Sans, sans-serif" font-size="13.0" fill="#000" filter="url(#ga)">
<text x="366.00" y="437.00" text-anchor="end">0.0</text>
<text x="366.00" y="405.00" text-anchor="end">0.2</text>
<text x="366.00" y="374.00" text-anchor="end">0.4</text>
<text x="366.00" y="343.00" text-anchor="end">0.6</text>
<text x="366.00" y="311.00" text-anchor="end">0.8</text>
<path d="M652,0 L472,0 L472,1080 C410,1020 340,975 240,920 L240,1075 C330,1125 420,1190 480,1270 C505,1315 525,1360 540,1420 L652,1420 Z" stroke="#000" stroke-width="0.25" vector-effect="non-scaling-stroke" transform="translate(347.928,280.000) scale(0.006348,-0.006348)"/>
<text x="366.00" y="280.00" text-anchor="end">.0</text>
<path d="M652,0 L472,0 L472,1080 C410,1020 340,975 240,920 L240,1075 C330,1125 420,1190 480,1270 C505,1315 525,1360 540,1420 L652,1420 Z" stroke="#000" stroke-width="0.25" vector-effect="non-scaling-stroke" transform="translate(347.928,249.000) scale(0.006348,-0.006348)"/>
<text x="366.00" y="249.00" text-anchor="end">.2</text>
<text x="392.75" y="467" text-anchor="middle">0</text>
<text x="448.65" y="467" text-anchor="middle">2</text>
<text x="504.55" y="467" text-anchor="middle">4</text>
<text x="560.45" y="467" text-anchor="middle">6</text>
<text x="616.35" y="467" text-anchor="middle">8</text>
<path d="M652,0 L472,0 L472,1080 C410,1020 340,975 240,920 L240,1075 C330,1125 420,1190 480,1270 C505,1315 525,1360 540,1420 L652,1420 Z" stroke="#000" stroke-width="0.25" vector-effect="non-scaling-stroke" transform="translate(665.020,467.000) scale(0.006348,-0.006348)"/>
<text x="672.25" y="467">0</text>
</g>
<text transform="translate(14.2,103.90) rotate(-90)" text-anchor="middle" font-family="Liberation Sans, sans-serif" font-size="17.9" fill="#000" filter="url(#ga)">Density</text>
<text transform="translate(14.2,338.20) rotate(-90)" text-anchor="middle" font-family="Liberation Sans, sans-serif" font-size="17.9" fill="#000" filter="url(#ga)">Density</text>
<text x="214.70" y="482.6" text-anchor="middle" font-family="Liberation Sans, sans-serif" font-size="18.0" fill="#000" filter="url(#ga)">Time (s)</text>
<text x="532.00" y="482.6" text-anchor="middle" font-family="Liberation Sans, sans-serif" font-size="18.0" fill="#000" filter="url(#ga)">Time (s)</text>
</svg>
</body></html>
